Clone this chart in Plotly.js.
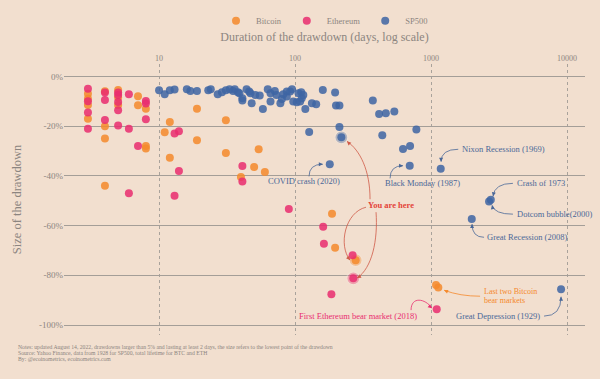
<!DOCTYPE html>
<html>
<head>
<meta charset="utf-8">
<script src="https://cdn.plot.ly/plotly-3.0.1.min.js"></script>
<style>html,body{margin:0;padding:0;background:#f2dfcf;}#chart{width:600px;height:379px;}</style>
</head>
<body>
<div id="chart"></div>
<script>
// ---- data (duration in days, drawdown in %) ----
const seriesNames = ['Bitcoin', 'Ethereum', 'SP500'];

const btcDays = [3,3,3,3, 4,4,4,4, 5,5,5, 7,7, 8,8,8, 11, 12,12, 19,19, 31,31, 54, 50, 60, 40, 187, 197, 279, 1088, 1131];
const btcDrawdown = [-7,-9,-11.5,-17, -6,-20,-25,-44, -5.5,-8.5,-11.5, -8,-11.6, -13,-28,-29, -22.5, -18.3,-32.7, -13,-25.7, -17.6,-30.8, -29.3, -36.4, -38.4, -40.5, -55.2, -68.9, -73.9, -83.9, -84.9];

const ethDays = [3,3,3,3, 4,4,4, 5,5,5,5,5, 6,6,6, 7, 8,8,8, 13,13, 14,14, 41,41, 90, 161, 163, 265, 268, 185, 1101];
const ethDrawdown = [-5,-10,-14.5,-21, -6.5,-9.5,-17.5, -6.5,-7.5,-10.3,-13.6,-19.7, -7.2,-21,-47, -28, -9.9,-10.9,-17.2, -23,-48, -22,-38, -36,-42.3, -53.3, -60.5, -67.3, -71.9, -81.2, -87.6, -93.6];

const spDays = [10,11,12,13,16,17,19,23,24,27, 29,31,33,35,36,38,39,41,41,44, 46,47,48,51,55,58,63,66,66,71, 73,78,80,82,87,87,92,95,97,103, 106,109,111,112,115,119,133,143,160,197, 200,212,373,415,465,537,127,212,219,180, 438,622,701,697,780,1178,2670,2750,1992,9036];
const spDrawdown = [-5.6,-7.2,-5.6,-5.3,-5.2,-5.9,-5.9,-5.6,-5.2,-7.2, -6.4,-5.6,-5.2,-5.9,-5.2,-6.4,-6.8,-8.8,-9.7,-5.2, -6.1,-6.8,-10.8,-7.5,-7.7,-13.1,-5.2,-6.8,-10.1,-5.9, -7.5,-10.8,-9.1,-7.2,-6.1,-8.1,-6.1,-5.2,-10.1,-10.4, -6.8,-10.1,-6.4,-8.8,-7.5,-13.1,-10.8,-11.2,-5.5,-6.5, -11.7,-11.7,-9.7,-15.1,-14.8,-14.1,-22.4,-20.3,-24.5,-35.3, -23.7,-29.2,-28,-35.9,-21.3,-37.1,-50.3,-49.6,-57.3,-85.6];

// current drawdowns ("You are here")
const hereDays = [219, 279, 268];
const hereDrawdown = [-24.5, -73.9, -81.2];

const xTickVals = [10, 100, 1000, 10000];
const xTickText = ['10', '100', '1000', '10000'];
const yTickVals = [0, -20, -40, -60, -80, -100];
const yTickText = ['0%', '-20%', '-40%', '-60%', '-80%', '-100%'];

const notes = [
  'Notes: updated August 14, 2022, drawdowns larger than 5% and lasting at least 2 days, the size refers to the lowest point of the drawdown',
  'Source: Yahoo Finance, data from 1928 for SP500, total lifetime for BTC and ETH',
  'By: @ecoinometrics, ecoinometrics.com'
];

// ---- styles ----
const BG = '#f2dfcf';
const COL = {btc: '#f5892c', eth: '#e92d6f', sp: '#3e65a3'};
const GRAY = '#8c8580';
const FONT = 'Liberation Serif, DejaVu Serif, serif';
const BLUE_T = '#4a6898';
const RED_T = '#e4443a';

function pt(name, x, y, color) {
  return {type: 'scatter', mode: 'markers', name: name, x: x, y: y,
    marker: {size: 8, color: color, opacity: 0.85},
    hoverinfo: 'x+y'};
}

const halo = {type: 'scatter', mode: 'markers', x: hereDays, y: hereDrawdown, showlegend: false,
  marker: {size: 13, color: [COL.sp, COL.btc, COL.eth], opacity: 0.35,
           line: {color: '#f7ece2', width: 1.2}}, hoverinfo: 'skip'};

const traces = [
  halo,
  pt(seriesNames[0], btcDays, btcDrawdown, COL.btc),
  pt(seriesNames[1], ethDays, ethDrawdown, COL.eth),
  pt(seriesNames[2], spDays, spDrawdown, COL.sp)
];

// ---- annotation curves (days, %) ----
function curvePath(p) {
  const s = p.map(q => q[0] + ',' + q[1]);
  return p.length === 3 ? 'M' + s[0] + ' Q' + s[1] + ' ' + s[2]
                        : 'M' + s[0] + ' C' + s[1] + ' ' + s[2] + ' ' + s[3];
}
const arrows = [
  {c: BLUE_T, p: [[126.7,-40.2],[126.7,-35.3],[160,-35.3]], ax: -5, ay: 0},
  {c: BLUE_T, p: [[499.5,-41],[499.5,-35.9],[622.6,-35.9]], ax: -5, ay: 0},
  {c: BLUE_T, p: [[1585,-29.3],[1185,-29.3],[1185,-34.3]], ax: 0, ay: -5},
  {c: BLUE_T, p: [[4000,-43],[2920,-43],[2857,-48.2]], ax: 1, ay: -5},
  {c: BLUE_T, p: [[4000,-55.4],[2920,-55.4],[2809,-51.8]], ax: 1, ay: 5},
  {c: BLUE_T, p: [[2453,-64.7],[2002,-64.7],[2002,-59.4]], ax: 0, ay: 5},
  {c: COL.btc, p: [[2293,-88.4],[1634,-88.4],[1246,-86]], ax: 5, ay: 2},
  {c: BLUE_T, p: [[6773,-96.4],[9035,-96.4],[9035,-88.6]], ax: 0, ay: 5},
  {c: COL.eth, p: [[712.8,-94],[712.8,-88.4],[903,-89.2],[1017,-93.2]], ax: -4, ay: -3},
  {c: '#cf5a48', p: [[356,-49.4],[356,-37.8],[300.6,-29.7],[241.2,-26.1]], ax: 4, ay: 4},
  {c: '#cf5a48', p: [[332.6,-52.6],[233.1,-54.6],[207.1,-67.9],[253.7,-73.9]], ax: -3, ay: -4},
  {c: '#cf5a48', p: [[394,-54.6],[407.6,-65.9],[368.3,-77.1],[285.7,-81.1]], ax: 5, ay: -3}
];

const shapes = arrows.map(a => ({type: 'path', xref: 'x', yref: 'y', path: curvePath(a.p),
  line: {color: a.c, width: 0.8}, layer: 'above'}));

const annotations = arrows.map(a => {
  const tip = a.p[a.p.length - 1];
  return {x: Math.log10(tip[0]), y: tip[1], xref: 'x', yref: 'y', text: '', showarrow: true,
    ax: a.ax, ay: a.ay, arrowhead: 2, arrowsize: 1, arrowwidth: 0.8, arrowcolor: a.c, standoff: 0};
});

function label(text, days, pct, anchor, color, extra) {
  return Object.assign({x: Math.log10(days), y: pct, xref: 'x', yref: 'y', text: text,
    showarrow: false, xanchor: anchor, yanchor: 'middle',
    font: {family: FONT, size: 8.5, color: color}}, extra || {});
}
annotations.push(
  label('COVID crash (2020)', 116.5, -42.2, 'center', BLUE_T),
  label('Black Monday (1987)', 443.7, -43, 'left', BLUE_T),
  label('Nixon Recession (1969)', 1634, -29.3, 'left', BLUE_T),
  label('Crash of 1973', 4147, -43, 'left', BLUE_T),
  label('Dotcom bubble(2000)', 4147, -55.4, 'left', BLUE_T),
  label('Great Recession (2008)', 2495, -64.7, 'left', BLUE_T),
  label('Last two Bitcoin', 2371, -86.4, 'left', COL.btc, {font: {family: FONT, size: 8, color: COL.btc}}),
  label('bear markets', 2371, -90.2, 'left', COL.btc, {font: {family: FONT, size: 8, color: COL.btc}}),
  label('Great Depression (1929)', 6548, -96.4, 'right', BLUE_T),
  label('First Ethereum bear market (2018)', 816, -96.4, 'right', COL.eth),
  label('<b>You are here</b>', 332.6, -51.8, 'left', RED_T)
);
const noteY = [-0.0442, -0.0663, -0.0884];
notes.forEach((t, i) => annotations.push({xref: 'paper', yref: 'paper', x: -0.092, y: noteY[i],
  xanchor: 'left', yanchor: 'middle', align: 'left', showarrow: false,
  font: {family: FONT, size: 5.7, color: GRAY}, text: t}));

const layout = {
  width: 600, height: 379,
  margin: {l: 64, r: 15, t: 64, b: 44, autoexpand: false},
  paper_bgcolor: BG, plot_bgcolor: BG,
  font: {family: FONT, color: GRAY, size: 9},
  showlegend: true,
  legend: {orientation: 'h', x: 0.5, xanchor: 'center', y: 1.16, yanchor: 'middle',
           font: {family: FONT, size: 8.5, color: GRAY}, bgcolor: 'rgba(0,0,0,0)'},
  xaxis: {type: 'log', side: 'top', range: [Math.log10(2), 4.132],
          tickvals: xTickVals, ticktext: xTickText, ticks: '',
          tickfont: {family: FONT, size: 8, color: GRAY},
          showgrid: true, gridcolor: '#a9a29b', gridwidth: 1, griddash: '3px,3px',
          zeroline: false, showline: false,
          title: {text: 'Duration of the drawdown (days, log scale)', standoff: 10,
                  font: {family: FONT, size: 12, color: GRAY}}},
  yaxis: {range: [-104, 5], tickvals: yTickVals, ticktext: yTickText, ticks: '',
          tickfont: {family: FONT, size: 9, color: GRAY},
          showgrid: true, gridcolor: '#a49e98', gridwidth: 1, zeroline: false, showline: false,
          title: {text: 'Size of the drawdown', standoff: 14,
                  font: {family: FONT, size: 12.5, color: GRAY}}},
  shapes: shapes,
  annotations: annotations
};

Plotly.newPlot('chart', traces, layout, {displayModeBar: false, staticPlot: true});
</script>
</body>
</html>
